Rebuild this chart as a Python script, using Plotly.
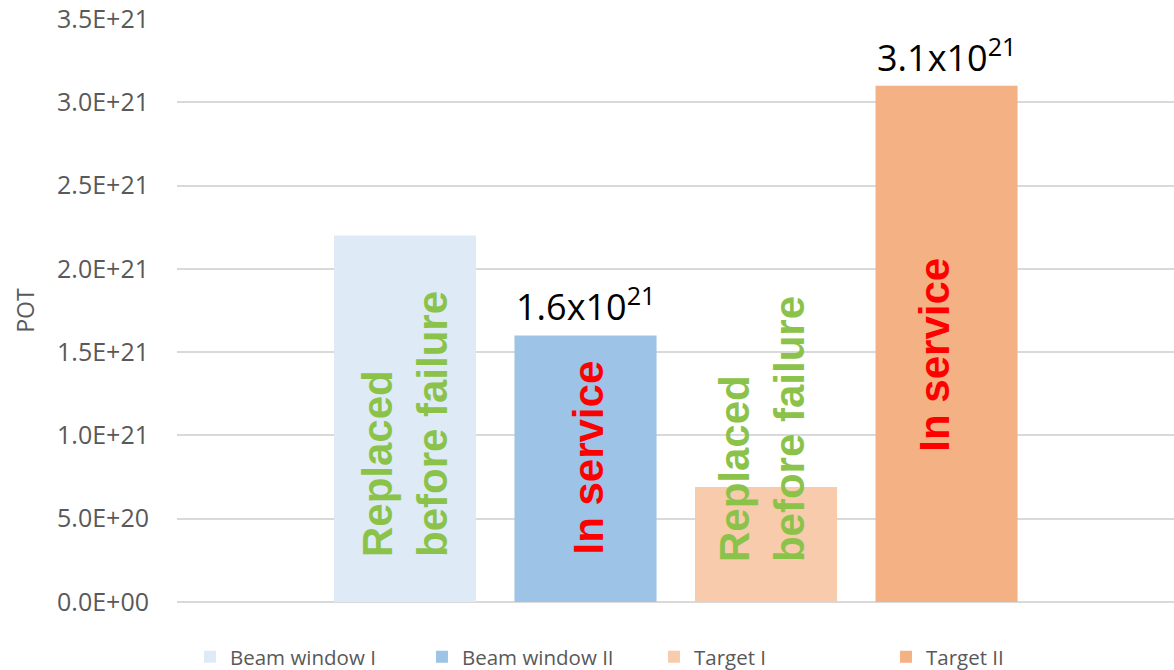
import plotly.graph_objects as go

# Protons-on-target reached by each beam window and target
components = ["Beam window I", "Beam window II", "Target I", "Target II"]
pot_values = [2.2e21, 1.6e21, 0.69e21, 3.1e21]
bar_colors = ["#DEEBF7", "#9DC3E6", "#F8CBAD", "#F4B183"]
status_labels = ["Replaced<br>before failure", "In service",
                 "Replaced<br>before failure", "In service"]
status_colors = ["#8BC34A", "#FF0000", "#8BC34A", "#FF0000"]
labelled = [False, True, False, True]

y_ticks = [0, 0.5e21, 1.0e21, 1.5e21, 2.0e21, 2.5e21, 3.0e21, 3.5e21]
y_tick_text = ["0.0E+00", "5.0E+20", "1.0E+21", "1.5E+21",
               "2.0E+21", "2.5E+21", "3.0E+21", "3.5E+21"]

fig = go.Figure()
for name, val, col in zip(components, pot_values, bar_colors):
    fig.add_trace(go.Bar(
        x=[name], y=[val], name=name, width=0.787,
        marker=dict(color=col, line=dict(width=0)),
        hoverinfo="x+y",
    ))

# Vertical status text inside the bars: (x shift px, bottom of text in POT)
status_place = [(0, 0.258e21), (3, 0.27e21), (-4, 0.228e21), (-12, 0.888e21)]
for name, txt, col, (dx, yb) in zip(components, status_labels, status_colors, status_place):
    fig.add_annotation(
        x=name, y=yb, xref="x", yref="y", text=txt, showarrow=False,
        textangle=-90, xanchor="center", yanchor="bottom", xshift=dx,
        align="left",
        font=dict(family="Liberation Sans, Arial, sans-serif", size=42,
                  color=col, weight="bold"),
    )

# Value callouts above the in-service bars
for name, val, lab in zip(components, pot_values, labelled):
    if not lab:
        continue
    fig.add_annotation(
        x=name, y=val, xref="x", yref="y",
        text=f"{val / 1e21:.1f}x10<sup>21</sup>", showarrow=False,
        xanchor="center", yanchor="bottom", yshift=2,
        font=dict(family="Open Sans, sans-serif", size=36, color="#000000"),
    )

fig.update_layout(
    width=1174, height=670,
    margin=dict(l=177, r=0, t=19, b=68, autoexpand=False),
    paper_bgcolor="white", plot_bgcolor="white",
    barmode="overlay",
    showlegend=True,
    legend=dict(
        orientation="h", x=0.013, xanchor="left", y=-0.094, yanchor="middle",
        entrywidth=187, entrywidthmode="pixels",
        font=dict(family="Open Sans, sans-serif", size=20.5, color="#595959"),
        itemclick=False, itemdoubleclick=False, traceorder="normal",
    ),
    font=dict(family="Open Sans, sans-serif", color="#595959"),
)

fig.update_xaxes(
    type="category", categoryorder="array", categoryarray=components,
    range=[-1.263, 4.26], showticklabels=False, showgrid=False,
    zeroline=False, showline=False, ticks="",
)
fig.update_yaxes(
    range=[0, 3.5e21], tickvals=y_ticks, ticktext=y_tick_text,
    showgrid=True, gridcolor="#D9D9D9", gridwidth=1.5,
    zeroline=True, zerolinecolor="#D9D9D9", zerolinewidth=1.5,
    showline=False, ticks="", ticklabelstandoff=27, automargin=False,
    tickfont=dict(family="Open Sans, sans-serif", size=25, color="#595959"),
    title=dict(text="POT", standoff=16,
               font=dict(family="Open Sans, sans-serif", size=23, color="#595959")),
)

fig.write_html("out.html")
